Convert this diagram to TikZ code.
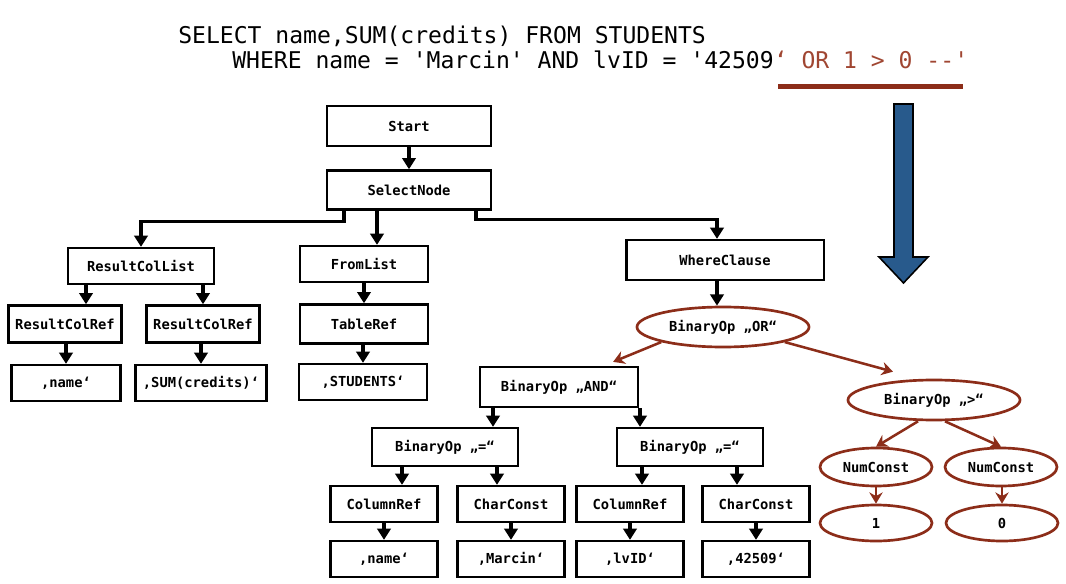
\documentclass[tikz,border=0pt]{standalone}
\usepackage{fontspec}
\setmonofont{DejaVu Sans Mono}
\usepackage{xcolor}
\definecolor{sqlred}{RGB}{140,45,25}
\definecolor{sqltxt}{RGB}{160,70,50}
\definecolor{sqlblue}{RGB}{40,90,140}
\usetikzlibrary{arrows.meta,shapes.geometric,calc}
\newcommand{\sqlfont}{\ttfamily\fontsize{16.4}{20}\selectfont}
\newcommand{\astfont}{\ttfamily\bfseries\fontsize{9.8}{12}\selectfont}

\begin{document}
\begin{tikzpicture}[x=0.025cm,y=-0.025cm,
  box/.style={draw,line width=1.6pt,inner sep=0pt,minimum height=0.9cm,font=\astfont},
  oval/.style={ellipse,draw=sqlred,line width=1.9pt,inner sep=0pt,minimum height=0.95cm,font=\astfont},
  arr/.style={-{Triangle[width=9.5pt,length=8pt]},line width=2.3pt},
  rarr/.style={-{Stealth[width=9.5pt,length=8pt]},line width=1.8pt,sqlred}]
  \useasboundingbox (0,0) rectangle (1066,584);
  %% query text
  \node[anchor=base west,inner sep=0pt,font=\sqlfont] (line1) at (178,44)
        {SELECT name,SUM(credits) FROM STUDENTS};
  \node[anchor=base west,inner sep=0pt,font=\sqlfont] (line2) at (232,69)
        {WHERE name = 'Marcin' AND lvID = '42509\textcolor{sqltxt}{‘ OR 1 > 0 -{}-'}};
  \fill[sqlred] (778,84) rectangle (963,89);
  \draw[fill=sqlblue,line width=1.1pt] (894,104) -- (913,104) -- (913,257) -- (928,257)
        -- (903.5,283) -- (879,257) -- (894,257) -- cycle;
  %% upper tree
  \node[box,minimum width=4.1cm,minimum height=1cm] (start) at (409,126) {Start};
  \node[box,minimum width=4.1cm,minimum height=0.98cm] (sel) at (409,190) {SelectNode};
  \node[box,minimum width=3.65cm] (rcl) at (141,266) {ResultColList};
  \node[box,minimum width=3.2cm] (fl) at (364,264) {FromList};
  \node[box,minimum width=4.93cm,minimum height=1cm] (where) at (725,260) {WhereClause};
  \node[box,minimum width=2.83cm,minimum height=0.93cm] (rcr1) at (65,324) {ResultColRef};
  \node[box,minimum width=2.83cm,minimum height=0.93cm] (rcr2) at (203,324) {ResultColRef};
  \node[box,minimum width=3.2cm,minimum height=0.98cm] (tr) at (364,324) {TableRef};
  \node[box,minimum width=2.73cm] (name1) at (66,383) {‚name‘};
  \node[box,minimum width=3.28cm] (sum) at (201,383) {‚SUM(credits)‘};
  \node[box,minimum width=3.2cm] (stud) at (363,382) {‚STUDENTS‘};
  %% where part
  \node[oval,minimum width=4.3cm,minimum height=1cm] (or) at (723,327) {BinaryOp „OR“};
  \node[box,minimum width=3.95cm,minimum height=1cm] (and) at (559,387) {BinaryOp „AND“};
  \node[oval,minimum width=4.3cm,minimum height=1cm] (gt) at (934,400) {BinaryOp „>“};
  \node[box,minimum width=3.65cm,minimum height=0.95cm] (eql) at (445,447) {BinaryOp „=“};
  \node[box,minimum width=3.65cm,minimum height=0.95cm] (eqr) at (690,447) {BinaryOp „=“};
  \node[box,minimum width=2.68cm] (cr1) at (384,504) {ColumnRef};
  \node[box,minimum width=2.68cm] (cc1) at (511,504) {CharConst};
  \node[box,minimum width=2.68cm] (cr2) at (630,504) {ColumnRef};
  \node[box,minimum width=2.68cm] (cc2) at (756,504) {CharConst};
  \node[box,minimum width=2.68cm] (name2) at (384,559) {‚name‘};
  \node[box,minimum width=2.68cm] (marcin) at (511,559) {‚Marcin‘};
  \node[box,minimum width=2.68cm] (lvid) at (630,559) {‚lvID‘};
  \node[box,minimum width=2.68cm] (num) at (756,559) {‚42509‘};
  \node[oval,minimum width=2.8cm] (nc1) at (876,467) {NumConst};
  \node[oval,minimum width=2.8cm] (nc2) at (1001,467) {NumConst};
  \node[oval,minimum width=2.8cm,minimum height=0.9cm] (one) at (876,523) {1};
  \node[oval,minimum width=2.8cm,minimum height=0.9cm] (zero) at (1002,523) {0};
  %% black edges
  \draw[arr] (start) -- (sel);
  \draw[arr] ([xshift=-1.625cm]sel.south) -- ++(0,11) -| (rcl.north);
  \draw[arr] ([xshift=0.325cm]fl.north |- sel.south) -- ([xshift=0.325cm]fl.north);
  \draw[arr] ([xshift=1.675cm]sel.south) -- ++(0,9) -| ([xshift=-0.2cm]where.north);
  \draw[arr] ([xshift=0.525cm]rcr1.north |- rcl.south) -- ([xshift=0.525cm]rcr1.north);
  \draw[arr] (rcr2.north |- rcl.south) -- (rcr2.north);
  \draw[arr] (fl) -- (tr);
  \draw[arr] (rcr1.south -| name1.north) -- (name1.north);
  \draw[arr] (rcr2.south -| sum.north) -- (sum.north);
  \draw[arr] (tr.south -| stud.north) -- (stud.north);
  \draw[arr] ([xshift=-0.2cm]where.south) -- ([xshift=-0.2cm]where.south |- or.north);
  \draw[arr] ([xshift=1.2cm]eql.north |- and.south) -- ([xshift=1.2cm]eql.north);
  \draw[arr] ([xshift=-1.25cm]eqr.north |- and.south) -- ([xshift=-1.25cm]eqr.north);
  \draw[arr] ([xshift=0.45cm]cr1.north |- eql.south) -- ([xshift=0.45cm]cr1.north);
  \draw[arr] ([xshift=-0.35cm]cc1.north |- eql.south) -- ([xshift=-0.35cm]cc1.north);
  \draw[arr] ([xshift=0.3cm]cr2.north |- eqr.south) -- ([xshift=0.3cm]cr2.north);
  \draw[arr] ([xshift=-0.475cm]cc2.north |- eqr.south) -- ([xshift=-0.475cm]cc2.north);
  \draw[arr] (cr1) -- (name2);
  \draw[arr] (cc1) -- (marcin);
  \draw[arr] (cr2) -- (lvid);
  \draw[arr] (cc2) -- (num);
  %% red edges
  \draw[rarr] (or.south west) -- ([xshift=-0.65cm,yshift=0.1cm]and.north east);
  \draw[rarr] (or.south east) -- ([xshift=-1.025cm,yshift=0.175cm]gt.north);
  \draw[rarr] ([xshift=-0.4cm]gt.south) -- (nc1.north);
  \draw[rarr] ([xshift=0.275cm]gt.south) -- (nc2.north);
  \draw[rarr] (nc1) -- (one);
  \draw[rarr] (nc2.south -| zero.north) -- (zero.north);
\end{tikzpicture}
\end{document}
